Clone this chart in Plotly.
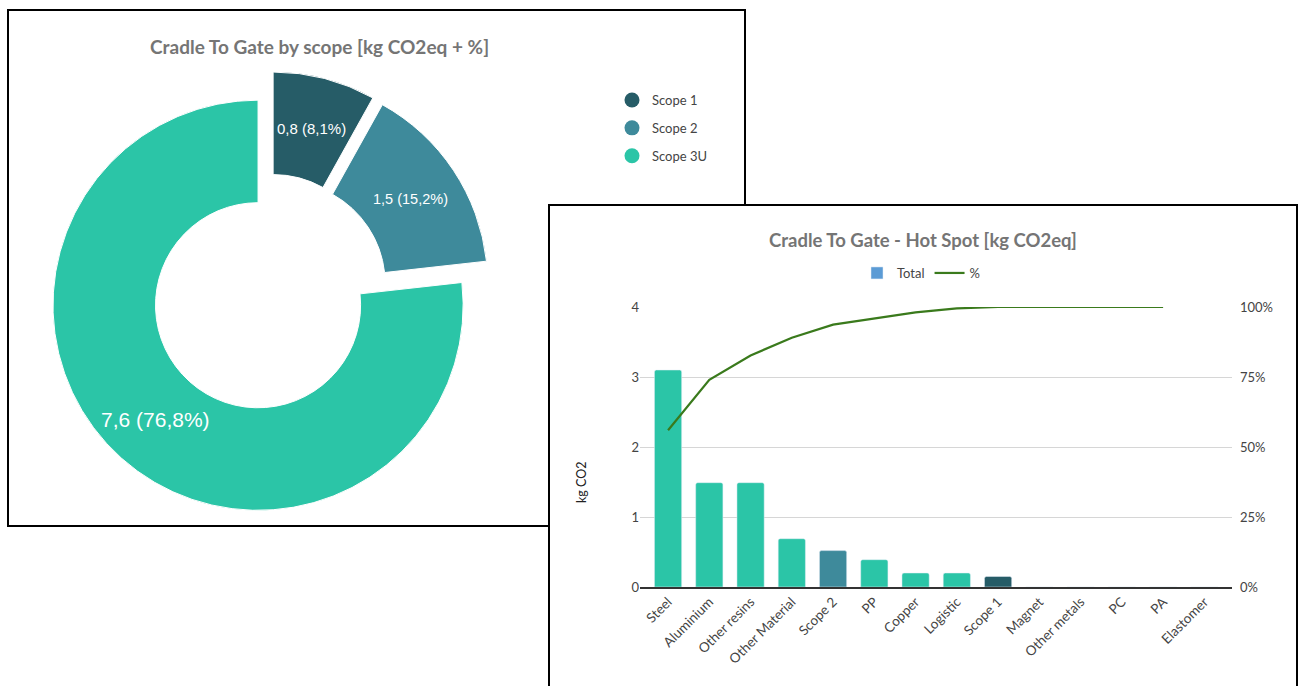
import math
import plotly.graph_objects as go

W, H = 1298, 686

# ---- data ----
scope_labels = ["Scope 1", "Scope 2", "Scope 3U"]
scope_values = [0.8, 1.5, 7.6]
scope_colors = ["#265C67", "#3E8A9B", "#2BC5A7"]
scope_label_sizes = [15, 14.5, 21]

categories = ["Steel", "Aluminium", "Other resins", "Other Material", "Scope 2", "PP",
              "Copper", "Logistic", "Scope 1", "Magnet", "Other metals", "PC", "PA", "Elastomer"]
totals = [3.1, 1.49, 1.49, 0.69, 0.52, 0.39, 0.2, 0.2, 0.15, 0, 0, 0, 0, 0]
cum_pct = [56, 74, 82.7, 89, 93.7, 95.8, 98.1, 99.5, 100, 100, 100, 100, 100, None]

y_ticks = [0, 1, 2, 3, 4]
pct_ticks = [0, 25, 50, 75, 100]
y_title = "kg CO2"

# ---- helpers (pixel -> paper) ----
def px(x):
    return x / W

def py(y):
    return 1 - y / H

color_map = {"Scope 1": scope_colors[0], "Scope 2": scope_colors[1]}
bar_colors = [color_map.get(c, scope_colors[2]) for c in categories]

tot = sum(scope_values)
pie_text = [f"{v:.1f} ({100 * v / tot:.1f}%)".replace(".", ",") for v in scope_values]

grey = "#444444"
title_grey = "#757575"
tfont = "Lato"

pie_x0, pie_x1, pie_y0, pie_y1 = 47.5, 490.5, 71.5, 514.5
pull = 0.08
hole = 0.5

fig = go.Figure()

# Donut
fig.add_trace(go.Pie(
    labels=scope_labels, values=scope_values, sort=False, direction="clockwise",
    rotation=0, hole=hole, pull=[pull] * len(scope_values),
    marker=dict(colors=scope_colors, line=dict(color="white", width=1)),
    textinfo="none",
    domain=dict(x=[px(pie_x0), px(pie_x1)], y=[py(pie_y1), py(pie_y0)]),
    showlegend=False, hoverinfo="label+value+percent",
))

# slice labels at the middle of each pulled ring segment
cx = (pie_x0 + pie_x1) / 2
cy = (pie_y0 + pie_y1) / 2
r = min(pie_x1 - pie_x0, pie_y1 - pie_y0) / 2 / (1 + pull)
annotations = []
cum = 0.0
for v, t, s in zip(scope_values, pie_text, scope_label_sizes):
    mid = (cum + v / 2) / tot * 2 * math.pi
    cum += v
    d = r * ((1 + hole) / 2 + pull)
    lx = cx + d * math.sin(mid)
    ly = cy - d * math.cos(mid)
    annotations.append(dict(
        text=t, xref="paper", yref="paper", x=px(lx), y=py(ly),
        xanchor="center", yanchor="middle", showarrow=False,
        font=dict(family="Liberation Sans", size=s, color="white"),
    ))

# Donut legend (circle markers)
for i, (lab, col) in enumerate(zip(scope_labels, scope_colors)):
    fig.add_trace(go.Scatter(
        x=[None], y=[None], mode="markers", name=lab,
        marker=dict(symbol="circle", size=15, color=col),
        legend="legend", legendgroup=f"g{i}", showlegend=True,
        xaxis="x", yaxis="y",
    ))

# Bars
fig.add_trace(go.Bar(
    x=categories, y=totals, marker=dict(color=bar_colors, cornerradius=2),
    width=0.66, name="Total", showlegend=False, xaxis="x", yaxis="y",
))
fig.add_trace(go.Bar(
    x=[None], y=[None], marker=dict(color="#5B9BD5"), name="Total",
    legend="legend2", xaxis="x", yaxis="y",
))
# Cumulative line
fig.add_trace(go.Scatter(
    x=categories, y=cum_pct, mode="lines", name="%",
    line=dict(color="#3A7A1C", width=2.2), connectgaps=False,
    legend="legend2", xaxis="x", yaxis="y2",
))

annotations += [
    dict(text="<b>Cradle To Gate by scope [kg CO2eq + %]</b>", xref="paper", yref="paper",
         x=px(319), y=py(46), xanchor="center", yanchor="middle", showarrow=False,
         font=dict(family=tfont, size=19, color=title_grey)),
    dict(text="<b>Cradle To Gate - Hot Spot [kg CO2eq]</b>", xref="paper", yref="paper",
         x=px(923), y=py(240), xanchor="center", yanchor="middle", showarrow=False,
         font=dict(family=tfont, size=18.5, color=title_grey)),
    dict(text=y_title, xref="paper", yref="paper", x=px(581), y=py(483),
         xanchor="center", yanchor="middle", showarrow=False, textangle=-90,
         font=dict(family=tfont, size=12.5, color="#222222")),
]

fig.update_layout(
    width=W, height=H, autosize=False,
    margin=dict(l=0, r=0, t=0, b=0, autoexpand=False),
    paper_bgcolor="white", plot_bgcolor="rgba(0,0,0,0)",
    barmode="overlay",
    font=dict(family=tfont, size=13, color=grey),
    xaxis=dict(
        domain=[px(640), px(1232)], anchor="y", type="category",
        range=[-0.68, 13.67], tickangle=-45, showgrid=False, automargin=False,
        showline=True, linecolor="#333333", linewidth=1.5,
        ticks="", tickfont=dict(family=tfont, size=13.5, color=grey),
        fixedrange=True,
    ),
    yaxis=dict(
        domain=[py(587), py(307)], anchor="x", range=[0, 4], automargin=False,
        tickvals=y_ticks, showgrid=True, gridcolor="#d6d6d6", gridwidth=1,
        zeroline=False, showline=False, ticks="",
        tickfont=dict(family=tfont, size=13, color=grey),
    ),
    yaxis2=dict(
        overlaying="y", side="right", anchor="x", range=[0, 100], automargin=False,
        tickvals=pct_ticks, ticktext=[f"{v}%" for v in pct_ticks],
        showgrid=False, zeroline=False, ticklabelstandoff=7,
        ticks="", tickfont=dict(family=tfont, size=13, color=grey),
    ),
    legend=dict(
        xref="container", yref="container",
        x=px(612), y=py(85), xanchor="left", yanchor="top",
        orientation="v", font=dict(family=tfont, size=13, color=grey),
        bgcolor="rgba(0,0,0,0)", tracegroupgap=8, itemsizing="trace",
    ),
    legend2=dict(
        xref="container", yref="container",
        x=px(921), y=py(273), xanchor="center", yanchor="middle",
        orientation="h", font=dict(family=tfont, size=13, color=grey),
        bgcolor="rgba(0,0,0,0)",
    ),
    shapes=[
        dict(type="rect", xref="paper", yref="paper",
             x0=px(8), y0=py(526), x1=px(745), y1=py(10),
             line=dict(color="black", width=2), fillcolor="white", layer="below"),
        dict(type="rect", xref="paper", yref="paper",
             x0=px(549), y0=py(700), x1=px(1297), y1=py(205),
             line=dict(color="black", width=2), fillcolor="white", layer="below"),
    ],
    annotations=annotations,
)

fig.write_html("out.html", post_script="document.body.style.margin='0';document.body.style.overflow='hidden';")
